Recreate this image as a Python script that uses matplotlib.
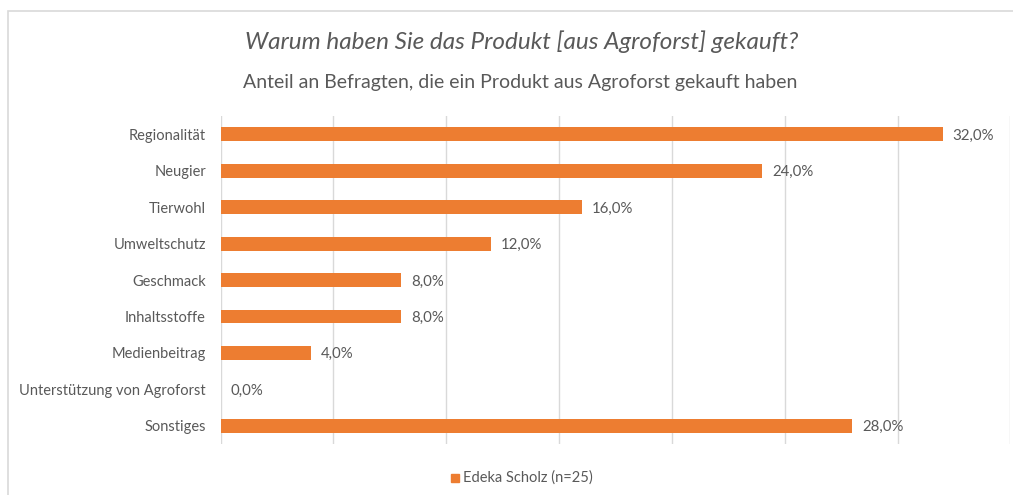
import matplotlib
matplotlib.use("Agg")
import numpy as np
from matplotlib import pyplot as plt
from matplotlib.patches import Rectangle

# data
categories = ["Regionalität", "Neugier", "Tierwohl", "Umweltschutz", "Geschmack",
              "Inhaltsstoffe", "Medienbeitrag", "Unterstützung von Agroforst", "Sonstiges"]
values = [32.0, 24.0, 16.0, 12.0, 8.0, 8.0, 4.0, 0.0, 28.0]
series_name = "Edeka Scholz (n=25)"
title = "Warum haben Sie das Produkt [aus Agroforst] gekauft?"
subtitle = "Anteil an Befragten, die ein Produkt aus Agroforst gekauft haben"

orange = "#ED7D31"
grey = "#595959"
plt.rcParams['font.family'] = ['Lato', 'DejaVu Sans']

fig = plt.figure(figsize=(10.13, 4.95), dpi=100)
ax = fig.add_axes([0.2177, 0.103, 0.7797, 0.6626])

y = np.arange(len(categories))
ax.barh(y, values, height=0.38, color=orange, zorder=3)
ax.set_ylim(len(categories) - 0.5, -0.5)
ax.set_xlim(0, 35)
ax.set_xticks(np.arange(0, 36, 5))
ax.set_xticklabels([])
ax.tick_params(axis='both', length=0)
ax.grid(axis='x', color='#D9D9D9', linewidth=1, zorder=0)
ax.set_yticks(y)
ax.set_yticklabels(categories, fontsize=10.5, color=grey)
ax.tick_params(axis='y', pad=10.5)
for s in ax.spines.values():
    s.set_visible(False)

# value labels next to the bars
for yi, v in zip(y, values):
    ax.annotate(f"{v:.1f}%".replace(".", ","), (v, yi), xytext=(7, -1),
                textcoords='offset points', va='center', ha='left',
                fontsize=10.8, color=grey)

fig.text(0.515, 0.915, title, ha='center', va='center', fontsize=17.5,
         style='italic', color=grey)
fig.text(0.514, 0.834, subtitle, ha='center', va='center', fontsize=14, color=grey)

# legend
fig.patches.append(Rectangle((451 / 1013, 1 - 482 / 495), 8 / 1013, 8 / 495,
                             transform=fig.transFigure, color=orange))
fig.text(463 / 1013, 1 - 478 / 495, series_name, ha='left', va='center',
         fontsize=10.5, color=grey)

# chart border
fig.patches.append(Rectangle((7.5 / 1013, -0.1), 1.2, 1 - 11 / 495 + 0.1,
                             transform=fig.transFigure, fill=False,
                             edgecolor='#D9D9D9', linewidth=1.2))

fig.savefig("out.png", dpi=100)
